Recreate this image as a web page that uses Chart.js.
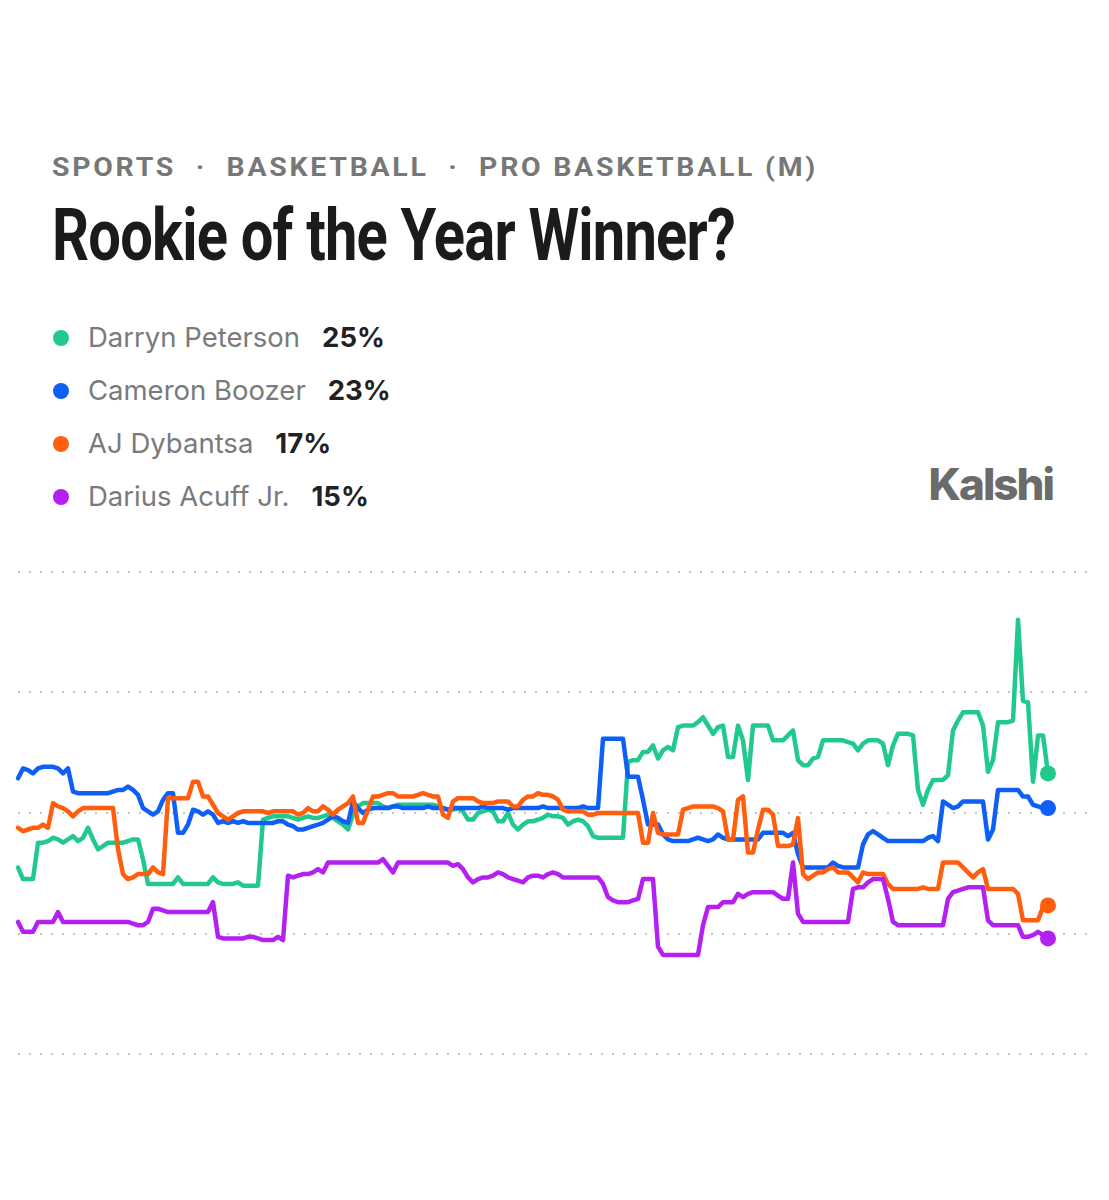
<!DOCTYPE html>
<html>
<head>
<meta charset="utf-8">
<script src="https://cdn.jsdelivr.net/npm/chart.js@4.4.1/dist/chart.umd.min.js"></script>
<style>
  html, body { margin: 0; padding: 0; background: #fff; }
  body { width: 1109px; height: 1200px; position: relative; overflow: hidden; font-family: Inter, "Noto Sans", sans-serif; }
  .crumbs { position: absolute; left: 52px; top: 154px; font: 700 26px/26px Roboto, sans-serif; letter-spacing: 2.5px; color: #777; white-space: nowrap; transform-origin: left top; }
  .title { position: absolute; left: 52px; top: 200px; font: 700 72px/72px Roboto, sans-serif; color: #1b1b1b; white-space: nowrap; transform-origin: left top; letter-spacing: -1px; }
  .legend { position: absolute; left: 52px; top: 324px; }
  .row { position: relative; height: 53px; font: 400 27.5px/27.5px Inter, sans-serif; white-space: nowrap; }
  .dot { position: absolute; left: 1px; top: 6px; width: 16px; height: 16px; border-radius: 50%; }
  .name { position: absolute; left: 36px; top: 0; color: #7a7a7a; }
  .pct { font-weight: 700; color: #222; margin-left: 22px; }
  .logo { position: absolute; right: 56px; top: 462px; font: 800 44px/44px Inter, sans-serif; color: #6b6b6b; letter-spacing: -2px; }
  .plot { position: absolute; left: 0; top: 560px; width: 1109px; height: 510px; }
</style>
</head>
<body>
<div class="crumbs" id="crumbs">SPORTS &nbsp;·&nbsp; BASKETBALL &nbsp;·&nbsp; PRO BASKETBALL (M)</div>
<div class="title" id="title">Rookie of the Year Winner?</div>
<div class="legend" id="legend"></div>
<div class="logo">Kalshi</div>
<div class="plot"><canvas id="rookieChart"></canvas></div>

<script>
// players, in legend order
const players = ['Darryn Peterson', 'Cameron Boozer', 'AJ Dybantsa', 'Darius Acuff Jr.'];
const latest = [25, 23, 17, 15];
const colors = ['#21c98c', '#0d5ff5', '#ff5e0e', '#b41ff2'];

// chance in %, one reading per step along the time axis
const peterson = [
    19.3, 18.6, 18.6, 18.6, 20.8, 20.8, 20.9, 21.1, 21.0, 20.8,
    21.0, 21.2, 20.9, 21.1, 21.7, 21.0, 20.4, 20.6, 20.8, 20.8,
    20.8, 20.8, 20.9, 21.0, 21.0, 19.8, 18.3, 18.3, 18.3, 18.3,
    18.3, 18.3, 18.7, 18.3, 18.3, 18.3, 18.3, 18.3, 18.3, 18.7,
    18.4, 18.3, 18.3, 18.3, 18.4, 18.2, 18.2, 18.2, 18.2, 22.2,
    22.3, 22.4, 22.4, 22.4, 22.4, 22.3, 22.2, 22.3, 22.4, 22.3,
    22.3, 22.4, 22.5, 22.3, 22.1, 21.9, 21.6, 22.5, 23.0, 23.2,
    23.2, 23.2, 23.2, 23.0, 22.9, 23.0, 23.1, 23.1, 23.1, 23.1,
    23.1, 23.1, 23.1, 23.1, 23.0, 22.9, 22.8, 22.8, 22.9, 22.7,
    22.2, 22.2, 22.6, 22.7, 22.8, 22.7, 22.1, 22.1, 22.6, 21.9,
    21.6, 21.9, 22.1, 22.1, 22.2, 22.3, 22.5, 22.4, 22.4, 22.3,
    21.9, 22.1, 22.2, 22.1, 21.8, 21.2, 21.1, 21.1, 21.1, 21.1,
    21.1, 21.1, 25.7, 25.8, 25.8, 26.3, 26.3, 26.7, 25.9, 26.4,
    26.6, 26.4, 27.8, 27.9, 27.9, 27.9, 28.1, 28.4, 27.9, 27.4,
    27.8, 27.9, 26.0, 26.0, 27.9, 27.0, 24.6, 27.9, 27.9, 27.9,
    27.9, 27.0, 27.0, 27.0, 27.3, 27.6, 25.8, 25.5, 25.5, 25.9,
    26.0, 27.0, 27.0, 27.0, 27.0, 27.0, 26.9, 26.8, 26.4, 26.8,
    27.0, 27.0, 27.0, 26.8, 25.5, 26.7, 27.4, 27.4, 27.4, 27.3,
    24.0, 23.1, 24.0, 24.6, 24.6, 24.6, 24.9, 27.6, 28.2, 28.7,
    28.7, 28.7, 28.7, 27.9, 25.1, 25.8, 28.1, 28.1, 28.1, 28.2,
    34.3, 29.4, 29.3, 24.5, 27.3, 27.3, 25.0,
];

const boozer = [
    24.7, 25.3, 25.2, 25.0, 25.3, 25.4, 25.4, 25.4, 25.3, 25.0,
    25.3, 23.9, 23.8, 23.8, 23.8, 23.8, 23.8, 23.8, 23.8, 23.9,
    24.0, 24.0, 24.2, 24.0, 23.7, 22.9, 22.7, 22.5, 22.7, 23.4,
    23.8, 23.8, 21.4, 21.4, 21.9, 22.8, 22.7, 22.5, 22.7, 22.5,
    22.0, 22.1, 22.0, 22.1, 22.0, 22.1, 22.0, 22.0, 22.0, 22.0,
    22.0, 22.0, 22.1, 22.1, 21.9, 21.8, 21.6, 21.6, 21.7, 21.8,
    21.9, 22.0, 22.2, 22.4, 22.3, 22.1, 22.0, 23.3, 22.9, 22.6,
    22.8, 22.9, 22.9, 22.9, 22.9, 23.0, 23.0, 22.9, 22.9, 22.9,
    22.9, 22.9, 23.0, 22.9, 22.9, 22.9, 22.8, 22.9, 22.9, 22.9,
    22.9, 22.9, 22.9, 23.0, 22.9, 22.9, 22.9, 22.9, 22.8, 22.9,
    22.9, 22.9, 22.9, 22.9, 22.9, 23.0, 22.9, 22.9, 22.9, 22.9,
    22.9, 22.9, 22.9, 23.0, 22.9, 22.9, 22.9, 27.1, 27.1, 27.1,
    27.1, 27.1, 24.8, 24.8, 24.8, 23.4, 21.9, 21.9, 21.9, 21.3,
    21.0, 20.9, 20.9, 20.9, 20.9, 21.0, 21.1, 21.0, 20.9, 21.0,
    21.3, 21.1, 21.0, 21.0, 21.0, 21.0, 21.0, 21.0, 21.0, 21.4,
    21.4, 21.4, 21.4, 21.4, 21.2, 21.4, 20.1, 19.3, 19.3, 19.3,
    19.3, 19.3, 19.3, 19.6, 19.4, 19.3, 19.3, 19.3, 19.3, 20.7,
    21.3, 21.5, 21.3, 21.1, 20.9, 20.9, 20.9, 20.9, 20.9, 20.9,
    20.9, 20.9, 21.1, 21.2, 20.9, 23.3, 23.1, 22.9, 23.0, 23.3,
    23.3, 23.3, 23.3, 23.3, 21.0, 21.6, 24.0, 24.0, 24.0, 24.0,
    24.0, 23.6, 23.6, 23.1, 23.0, 22.9, 22.9,
];

const dybantsa = [
    21.7, 21.5, 21.6, 21.7, 21.7, 21.9, 21.7, 23.2, 23.0, 22.9,
    22.7, 22.4, 22.7, 22.9, 22.9, 22.9, 22.9, 22.9, 22.9, 22.9,
    20.4, 18.9, 18.6, 18.7, 18.9, 18.9, 18.9, 19.3, 19.0, 18.9,
    23.5, 23.5, 23.5, 23.5, 23.5, 24.5, 24.5, 23.6, 23.6, 23.1,
    22.6, 22.4, 22.2, 22.4, 22.6, 22.7, 22.7, 22.7, 22.7, 22.7,
    22.6, 22.7, 22.7, 22.7, 22.7, 22.7, 22.5, 22.6, 22.9, 22.7,
    22.7, 23.0, 22.8, 22.5, 22.8, 23.0, 23.2, 23.6, 22.0, 22.0,
    22.8, 23.6, 23.6, 23.7, 23.8, 23.8, 23.6, 23.6, 23.6, 23.6,
    23.7, 23.8, 23.7, 23.6, 23.6, 22.5, 22.3, 23.3, 23.5, 23.5,
    23.5, 23.5, 23.3, 23.2, 23.2, 23.2, 23.3, 23.3, 23.3, 23.0,
    23.0, 23.4, 23.6, 23.6, 23.8, 23.7, 23.7, 23.6, 23.4, 22.8,
    22.7, 22.7, 22.7, 22.7, 22.5, 22.5, 22.6, 22.6, 22.6, 22.6,
    22.6, 22.6, 22.6, 22.6, 22.6, 20.8, 20.8, 22.6, 21.4, 21.3,
    21.3, 21.3, 21.3, 22.8, 22.9, 23.0, 23.0, 23.0, 23.0, 23.0,
    22.9, 22.7, 21.0, 21.0, 23.4, 23.6, 20.2, 20.2, 21.6, 22.8,
    22.8, 22.5, 20.6, 20.6, 20.6, 20.7, 22.3, 18.9, 18.6, 18.8,
    19.0, 19.0, 19.2, 19.3, 19.0, 19.0, 19.0, 18.7, 18.4, 19.0,
    18.9, 18.9, 18.9, 18.9, 18.3, 18.0, 18.0, 18.0, 18.0, 18.0,
    18.0, 18.1, 18.0, 18.0, 18.0, 19.6, 19.6, 19.6, 19.6, 19.3,
    19.0, 18.7, 19.0, 19.2, 18.0, 18.0, 18.0, 18.0, 18.0, 18.0,
    17.7, 16.1, 16.1, 16.1, 16.1, 16.9, 17.0,
];

const acuff = [
    16.0, 15.4, 15.4, 15.4, 16.0, 16.0, 16.0, 16.0, 16.6, 16.0,
    16.0, 16.0, 16.0, 16.0, 16.0, 16.0, 16.0, 16.0, 16.0, 16.0,
    16.0, 16.0, 16.0, 15.9, 15.8, 15.8, 16.0, 16.8, 16.8, 16.7,
    16.6, 16.6, 16.6, 16.6, 16.6, 16.6, 16.6, 16.6, 16.6, 17.2,
    15.1, 15.0, 15.0, 15.0, 15.0, 15.0, 15.1, 15.1, 15.0, 14.9,
    14.9, 14.9, 15.1, 14.9, 18.8, 18.7, 18.8, 18.9, 18.9, 19.0,
    19.2, 19.0, 19.6, 19.6, 19.6, 19.6, 19.6, 19.6, 19.6, 19.6,
    19.6, 19.6, 19.6, 19.8, 19.4, 19.0, 19.6, 19.6, 19.6, 19.6,
    19.6, 19.6, 19.6, 19.6, 19.6, 19.6, 19.6, 19.4, 19.5, 19.2,
    18.7, 18.4, 18.6, 18.7, 18.7, 18.8, 19.0, 18.9, 18.7, 18.6,
    18.5, 18.4, 18.7, 18.8, 18.8, 18.7, 18.9, 19.0, 18.9, 18.7,
    18.7, 18.7, 18.7, 18.7, 18.7, 18.7, 18.7, 18.3, 17.5, 17.3,
    17.2, 17.2, 17.2, 17.3, 17.4, 18.6, 18.6, 18.6, 14.5, 14.0,
    14.0, 14.0, 14.0, 14.0, 14.0, 14.0, 14.0, 15.8, 16.9, 16.9,
    16.9, 17.2, 17.2, 17.2, 17.7, 17.5, 17.7, 17.8, 17.8, 17.8,
    17.8, 17.8, 17.6, 17.4, 17.4, 19.6, 16.5, 16.0, 16.0, 16.0,
    16.0, 16.0, 16.0, 16.0, 16.0, 16.0, 16.0, 18.0, 18.1, 18.1,
    18.4, 18.6, 18.6, 18.6, 17.4, 16.0, 15.8, 15.8, 15.8, 15.8,
    15.8, 15.8, 15.8, 15.8, 15.8, 15.8, 17.4, 17.8, 17.9, 18.0,
    18.1, 18.1, 18.1, 18.1, 16.1, 15.8, 15.8, 15.8, 15.8, 15.8,
    15.8, 15.1, 15.1, 15.2, 15.4, 15.2, 15.0,
];

const series = [peterson, boozer, dybantsa, acuff];

// legend
const legend = document.querySelector('#legend');
players.forEach((name, i) => {
    const row = document.createElement('div');
    row.className = 'row';
    row.innerHTML =
        '<span class="dot" style="background:' + colors[i] + '"></span>' +
        '<span class="name">' + name + '<span class="pct">' + latest[i] + '%</span></span>';
    legend.appendChild(row);
});

// squeeze the headline text to the reference widths
function fitWidth(el, target) {
    const w = el.getBoundingClientRect().width;
    el.style.transform = 'scaleX(' + (target / w) + ')';
}
fitWidth(document.querySelector('#title'), 683);
fitWidth(document.querySelector('#crumbs'), 766);

const lastIndex = peterson.length - 1;

const rookieChart = new Chart(document.querySelector('#rookieChart'), {
    type: 'line',
    data: {
        datasets: series.map((values, i) => ({
            label: players[i],
            data: values.map((v, k) => ({ x: k, y: v })),
            borderColor: colors[i],
            backgroundColor: colors[i],
            borderWidth: 4.5,
            tension: 0,
            borderJoinStyle: 'round',
            borderCapStyle: 'round',
            pointRadius: (ctx) => (ctx.dataIndex === lastIndex ? 8 : 0),
            pointBorderWidth: 0,
            pointHoverRadius: 0,
            clip: false,
        })).reverse(),
    },
    options: {
        responsive: true,
        maintainAspectRatio: false,
        animation: false,
        layout: {
            padding: { left: 18, right: 21, top: 12, bottom: 16 },
        },
        plugins: {
            legend: { display: false },
            tooltip: { enabled: false },
        },
        scales: {
            x: {
                type: 'linear',
                min: 0,
                max: 214,
                display: false,
            },
            y: {
                min: 8,
                max: 37.2,
                ticks: { stepSize: 7.3, display: false },
                grid: {
                    color: '#c4c4c4',
                    lineWidth: 2,
                    drawTicks: false,
                },
                border: { display: false, dash: [2, 9] },
            },
        },
    },
});
</script>
</body>
</html>
